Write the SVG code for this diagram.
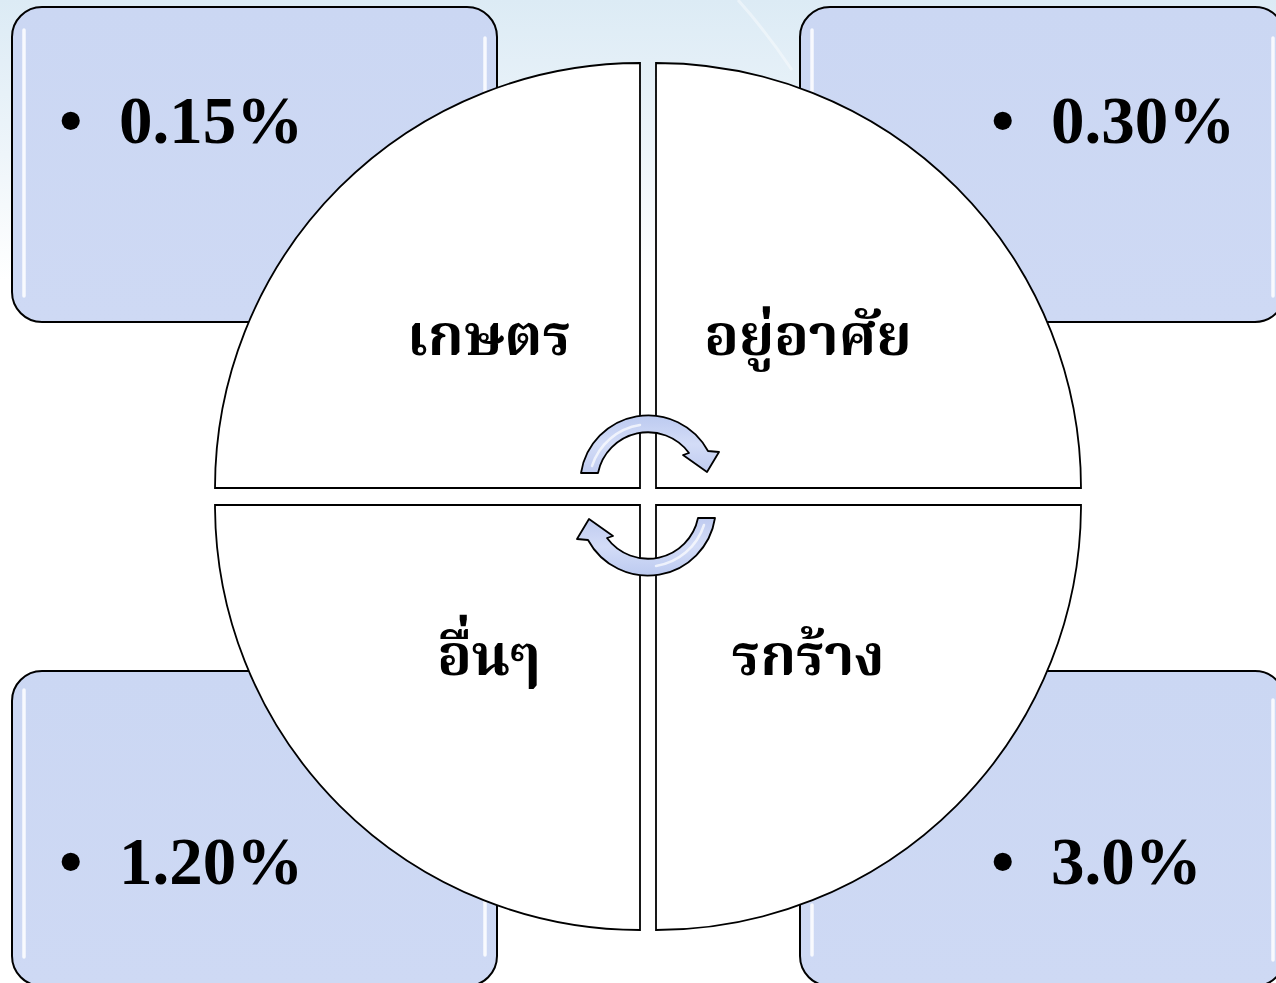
<svg xmlns="http://www.w3.org/2000/svg" width="1276" height="983" viewBox="0 0 1276 983">
  <defs>
    <linearGradient id="bg" x1="0" y1="0" x2="0" y2="1">
      <stop offset="0" stop-color="#dcebf5"/>
      <stop offset="0.55" stop-color="#eef5fa"/>
      <stop offset="1" stop-color="#ffffff"/>
    </linearGradient>
    <linearGradient id="boxfill" x1="0" y1="0" x2="0" y2="1">
      <stop offset="0" stop-color="#cbd7f3"/>
      <stop offset="1" stop-color="#ced9f4"/>
    </linearGradient>
    <linearGradient id="arrowfill" x1="0" y1="0" x2="0" y2="1">
      <stop offset="0" stop-color="#bccaf0"/>
      <stop offset="0.5" stop-color="#d3dcf7"/>
      <stop offset="1" stop-color="#bfcbf0"/>
    </linearGradient>
    <path id="arrowShape" d="M 581,473 A 68 68 0 0 1 708,451 L 719,452 L 707,472 L 683,455 L 689,453 A 51 51 0 0 0 598,473 Z"/>
  </defs>
  <style>
    .box { fill: url(#boxfill); stroke: #000; stroke-width: 2; }
    .hl { stroke: #ffffff; stroke-width: 3.5; stroke-linecap: round; fill: none; opacity: 0.85; }
    .quad { fill: #ffffff; stroke: #000; stroke-width: 1.8; }
    .val { font-family: "Liberation Serif", "Times New Roman", serif; font-weight: bold; font-size: 67px; fill: #000; }
    .lbl { font-family: "Norasi", "Noto Serif Thai", "Noto Sans Thai", "Liberation Serif", serif; font-weight: bold; font-size: 57px; fill: #000; text-anchor: middle; }
    .arrow { fill: url(#arrowfill); stroke: #000; stroke-width: 1.8; stroke-linejoin: round; }
    .arrowhl { fill: none; stroke: #ffffff; stroke-width: 2.5; stroke-linecap: round; opacity: 0.7; }
  </style>

  <rect x="0" y="0" width="1276" height="983" fill="#ffffff"/>
  <rect x="0" y="0" width="1276" height="280" fill="url(#bg)"/>
  <path d="M 738,0 Q 765,30 792,70" stroke="#ffffff" stroke-width="3" fill="none" opacity="0.4"/>

  <g id="box-tl">
    <rect class="box" x="12" y="7" width="485" height="315" rx="30" ry="30"/>
    <line class="hl" x1="24" y1="30" x2="24" y2="296"/>
    <line class="hl" x1="485" y1="38" x2="485" y2="105"/>
    <text class="val" x="59" y="143">•</text>
    <text class="val" x="119" y="143">0.15%</text>
  </g>
  <g id="box-tr">
    <rect class="box" x="800" y="7" width="485" height="315" rx="30" ry="30"/>
    <line class="hl" x1="812" y1="30" x2="812" y2="100"/>
    <line class="hl" x1="1273" y1="38" x2="1273" y2="296"/>
    <text class="val" x="991" y="143">•</text>
    <text class="val" x="1051" y="143">0.30%</text>
  </g>
  <g id="box-bl">
    <rect class="box" x="12" y="671" width="485" height="315" rx="30" ry="30"/>
    <line class="hl" x1="24" y1="690" x2="24" y2="957"/>
    <line class="hl" x1="485" y1="900" x2="485" y2="955"/>
    <text class="val" x="59" y="884">•</text>
    <text class="val" x="119" y="884">1.20%</text>
  </g>
  <g id="box-br">
    <rect class="box" x="800" y="671" width="485" height="315" rx="30" ry="30"/>
    <line class="hl" x1="812" y1="905" x2="812" y2="955"/>
    <line class="hl" x1="1273" y1="700" x2="1273" y2="960"/>
    <text class="val" x="991" y="884">•</text>
    <text class="val" x="1051" y="884">3.0%</text>
  </g>

  <g id="quad-tl">
    <path class="quad" d="M 640,488 L 215,488 A 425 425 0 0 1 640,63 Z"/>
    <text class="lbl" x="489" y="355">เกษตร</text>
  </g>
  <g id="quad-tr">
    <path class="quad" d="M 656,488 L 656,63 A 425 425 0 0 1 1081,488 Z"/>
    <text class="lbl" x="808" y="355">อยู่อาศัย</text>
  </g>
  <g id="quad-bl">
    <path class="quad" d="M 640,505 L 640,930 A 425 425 0 0 1 215,505 Z"/>
    <text class="lbl" x="489" y="675">อื่นๆ</text>
  </g>
  <g id="quad-br">
    <path class="quad" d="M 656,505 L 1081,505 A 425 425 0 0 1 656,930 Z"/>
    <text class="lbl" x="808" y="675">รกร้าง</text>
  </g>

  <g id="connectors">
    <g id="arrow-top">
      <use href="#arrowShape" class="arrow"/>
      <path class="arrowhl" d="M 592,466 A 60 60 0 0 1 640,425"/>
    </g>
    <g id="arrow-bottom" transform="rotate(180 648 495.5)">
      <use href="#arrowShape" class="arrow"/>
      <path class="arrowhl" d="M 592,466 A 60 60 0 0 1 640,425"/>
    </g>
  </g>
</svg>
